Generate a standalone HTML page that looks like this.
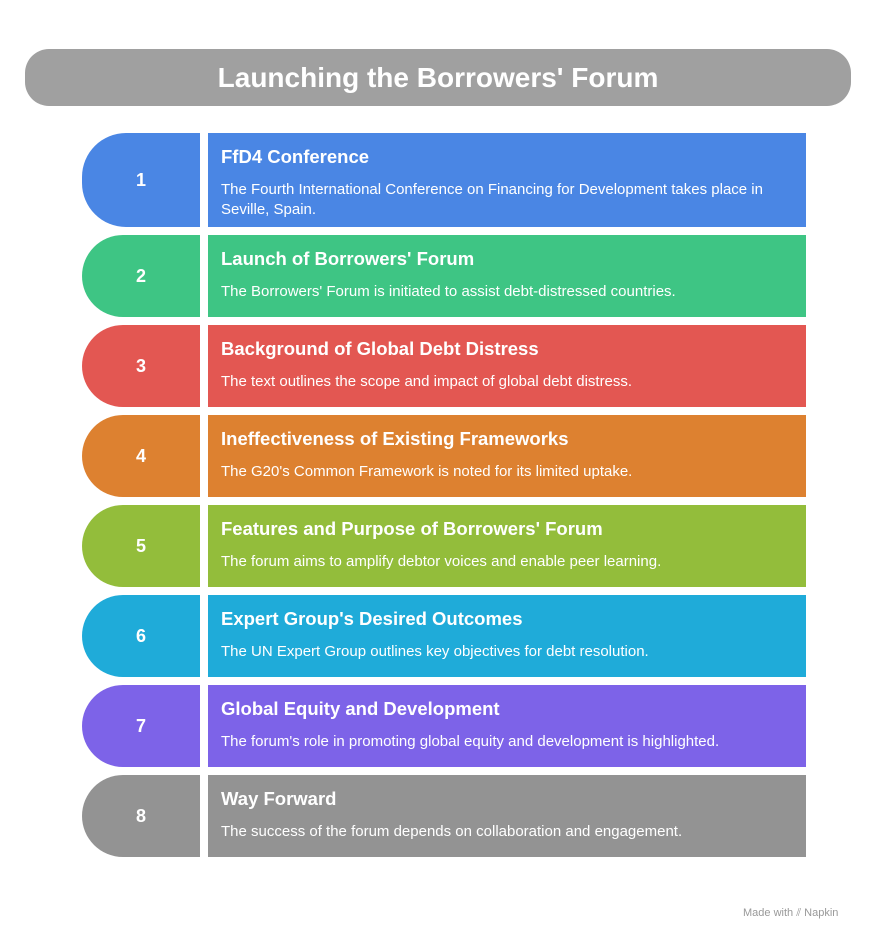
<!DOCTYPE html>
<html><head><style>
body{margin:0;width:876px;height:942px;background:#fff;font-family:"Liberation Sans",sans-serif;position:relative;overflow:hidden}
.title{position:absolute;left:25px;top:49px;width:826px;height:57px;background:#a0a0a0;border-radius:24px;color:#fff;font-weight:bold;font-size:28px;text-align:center;line-height:57px}
.tab{position:absolute;left:82px;width:118px;border-radius:44px 0 0 44px;color:#fff;font-weight:bold;font-size:18px;display:flex;align-items:center;justify-content:center}
.box{position:absolute;left:208px;width:598px;color:#fff}
.box h3{margin:0;position:absolute;left:13px;top:13px;font-size:18.5px;font-weight:bold}
.box p{margin:0;position:absolute;left:13px;top:47px;font-size:15px;line-height:20px;width:575px}
.foot{position:absolute;left:743px;top:907px;font-size:11px;color:#999}
</style></head><body>
<div class="title">Launching the Borrowers' Forum</div>

<div class="tab" style="top:133px;height:94px;background:#4a86e4">1</div>
<div class="box" style="top:133px;height:94px;background:#4a86e4"><h3>FfD4 Conference</h3><p>The Fourth International Conference on Financing for Development takes place in Seville, Spain.</p></div>

<div class="tab" style="top:235px;height:82px;background:#3ec584">2</div>
<div class="box" style="top:235px;height:82px;background:#3ec584"><h3>Launch of Borrowers' Forum</h3><p>The Borrowers' Forum is initiated to assist debt-distressed countries.</p></div>

<div class="tab" style="top:325px;height:82px;background:#e35752">3</div>
<div class="box" style="top:325px;height:82px;background:#e35752"><h3>Background of Global Debt Distress</h3><p>The text outlines the scope and impact of global debt distress.</p></div>

<div class="tab" style="top:415px;height:82px;background:#dd8130">4</div>
<div class="box" style="top:415px;height:82px;background:#dd8130"><h3>Ineffectiveness of Existing Frameworks</h3><p>The G20's Common Framework is noted for its limited uptake.</p></div>

<div class="tab" style="top:505px;height:82px;background:#93bd3b">5</div>
<div class="box" style="top:505px;height:82px;background:#93bd3b"><h3>Features and Purpose of Borrowers' Forum</h3><p>The forum aims to amplify debtor voices and enable peer learning.</p></div>

<div class="tab" style="top:595px;height:82px;background:#1fabd9">6</div>
<div class="box" style="top:595px;height:82px;background:#1fabd9"><h3>Expert Group's Desired Outcomes</h3><p>The UN Expert Group outlines key objectives for debt resolution.</p></div>

<div class="tab" style="top:685px;height:82px;background:#7d63e8">7</div>
<div class="box" style="top:685px;height:82px;background:#7d63e8"><h3>Global Equity and Development</h3><p>The forum's role in promoting global equity and development is highlighted.</p></div>

<div class="tab" style="top:775px;height:82px;background:#939393">8</div>
<div class="box" style="top:775px;height:82px;background:#939393"><h3>Way Forward</h3><p>The success of the forum depends on collaboration and engagement.</p></div>

<div class="foot">Made with ⫽ Napkin</div>
</body></html>
